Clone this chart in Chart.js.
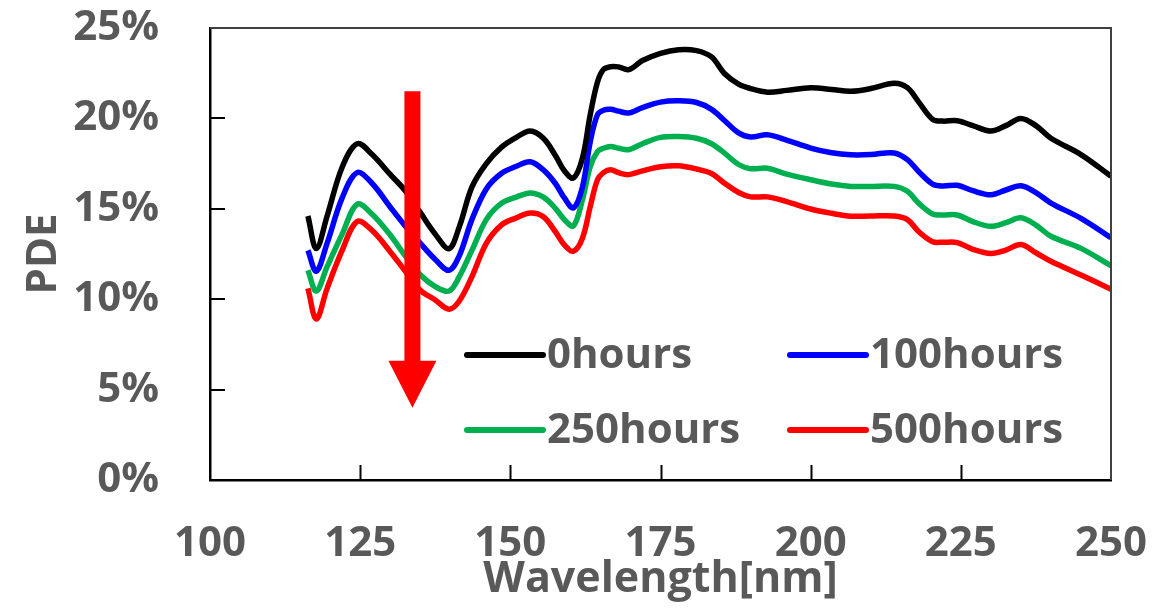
<!DOCTYPE html>
<html>
<head>
<meta charset="utf-8">
<script src="https://cdn.jsdelivr.net/npm/chart.js@4"></script>
<style>
  html, body { margin: 0; padding: 0; background: #ffffff; }
  #wrap { width: 1165px; height: 609px; position: relative; }
</style>
</head>
<body>
<div id="wrap"><canvas id="pde"></canvas></div>
<script>
// Wavelength sampling points [nm]
const wavelength = [116.3, 117.7, 119.5, 122, 124.5, 127, 130, 132.5, 135, 137.5,
  139.8, 141.5, 143.6, 146, 148.5, 151, 153.3, 155.5, 157.5, 159,
  160.5, 162, 163.3, 164.5, 165.5, 166.7, 168, 169.7, 172, 175,
  178, 181, 183.5, 185.6, 188, 190, 192.8, 196, 200, 203.5,
  206.7, 210, 213.9, 216.1, 218, 220.3, 222, 224.4, 227, 230,
  232.5, 235, 237.5, 240, 245, 250];

// PDE [%] after each exposure time
const pde0h = [14.6, 12.8, 14.6, 17.3, 18.6, 18.0, 16.9, 16.0, 14.8, 13.6,
  12.8, 14.0, 16.2, 17.5, 18.4, 18.95, 19.3, 18.9, 17.95, 17.1,
  16.7, 17.8, 20.2, 22.0, 22.7, 22.86, 22.85, 22.7, 23.2, 23.6,
  23.8, 23.75, 23.4, 22.5, 21.9, 21.65, 21.45, 21.55, 21.7, 21.6,
  21.5, 21.65, 21.95, 21.7, 20.9, 19.95, 19.85, 19.87, 19.6, 19.3,
  19.6, 20.0, 19.6, 18.9, 18.0, 16.8];
const pde100h = [12.7, 11.55, 13.1, 15.6, 17.0, 16.4, 15.1, 14.05, 13.1, 12.2,
  11.6, 12.4, 14.4, 16.1, 16.95, 17.35, 17.6, 17.15, 16.4, 15.6,
  15.05, 16.2, 18.7, 20.2, 20.45, 20.5, 20.4, 20.3, 20.6, 20.9,
  20.97, 20.88, 20.5, 19.9, 19.2, 18.97, 19.09, 18.8, 18.36, 18.1,
  17.99, 18.0, 18.09, 17.72, 17.05, 16.37, 16.26, 16.3, 16.0, 15.78,
  16.04, 16.28, 15.9, 15.32, 14.47, 13.4];
const pde250h = [11.6, 10.45, 11.8, 13.6, 15.25, 14.7, 13.55, 12.4, 11.35, 10.7,
  10.45, 11.25, 12.7, 14.4, 15.3, 15.65, 15.88, 15.65, 15.03, 14.4,
  14.05, 15.5, 17.33, 18.16, 18.35, 18.45, 18.35, 18.27, 18.6, 18.95,
  19.0, 18.9, 18.6, 18.09, 17.45, 17.22, 17.24, 16.92, 16.61, 16.37,
  16.24, 16.24, 16.24, 15.97, 15.3, 14.71, 14.66, 14.66, 14.29, 14.03,
  14.23, 14.5, 14.1, 13.48, 12.81, 11.85];
const pde500h = [10.6, 8.9, 10.6, 12.7, 14.3, 13.8, 12.63, 11.55, 10.5, 9.96,
  9.45, 9.9, 11.24, 13.09, 14.1, 14.5, 14.77, 14.56, 13.73, 13.0,
  12.65, 13.37, 15.12, 16.6, 17.0, 17.16, 17.0, 16.89, 17.1, 17.33,
  17.38, 17.2, 16.95, 16.43, 15.9, 15.66, 15.66, 15.4, 14.99, 14.75,
  14.59, 14.6, 14.6, 14.4, 13.73, 13.18, 13.15, 13.13, 12.76, 12.53,
  12.72, 13.02, 12.57, 12.1, 11.34, 10.55];

const seriesLabels = ['0hours', '100hours', '250hours', '500hours'];
const seriesColors = ['#000000', '#0000ff', '#00b050', '#ff0000'];

// Axis ranges and ticks
const xTicks = [100, 125, 150, 175, 200, 225, 250];
const yTicks = [0, 5, 10, 15, 20, 25];

// Downward trend arrow (data units): wavelength, top, head base, tip
const arrowX = 133.7;
const arrowTop = 21.5;
const arrowHeadBase = 6.6;
const arrowTip = 4.0;

const FONT = "'Open Sans', 'Liberation Sans', sans-serif";
const TEXT_GRAY = '#595959';

function toPoints(values) {
  return values.map((v, i) => ({ x: wavelength[i], y: v }));
}

const seriesValues = [pde0h, pde100h, pde250h, pde500h];
const datasets = seriesValues.map((vals, i) => ({
  label: seriesLabels[i],
  data: toPoints(vals),
  borderColor: seriesColors[i],
  backgroundColor: seriesColors[i],
  borderWidth: 5.5,
  pointRadius: 0,
  fill: false,
  tension: 0.35,
  borderJoinStyle: 'round'
}));

// Frame: grey top/right edges plus inward tick marks
const framePlugin = {
  id: 'frame',
  afterDatasetsDraw(chart) {
    const { ctx, chartArea: a, scales: { x, y } } = chart;
    ctx.save();
    ctx.strokeStyle = '#404040';
    ctx.lineWidth = 2;
    ctx.beginPath();
    ctx.moveTo(a.left, a.top);
    ctx.lineTo(a.right, a.top);
    ctx.lineTo(a.right, a.bottom);
    ctx.stroke();

    ctx.strokeStyle = '#000000';
    ctx.lineWidth = 2;
    ctx.beginPath();
    xTicks.slice(1, -1).forEach(v => {
      const px = Math.round(x.getPixelForValue(v)) + 0.5;
      ctx.moveTo(px, a.bottom);
      ctx.lineTo(px, a.bottom - 15);
    });
    yTicks.slice(1, -1).forEach(v => {
      const py = Math.round(y.getPixelForValue(v));
      ctx.moveTo(a.left, py);
      ctx.lineTo(a.left + 15, py);
    });
    ctx.stroke();
    ctx.restore();
  }
};

// Red arrow marking the decrease with exposure time
const arrowPlugin = {
  id: 'trendArrow',
  afterDatasetsDraw(chart) {
    const { ctx, scales: { x, y } } = chart;
    const cx = x.getPixelForValue(arrowX);
    const top = y.getPixelForValue(arrowTop);
    const base = y.getPixelForValue(arrowHeadBase);
    const tip = y.getPixelForValue(arrowTip);
    const shaftHalf = 8, headHalf = 24;
    ctx.save();
    ctx.fillStyle = '#ff0000';
    ctx.beginPath();
    ctx.moveTo(cx - shaftHalf, top);
    ctx.lineTo(cx + shaftHalf, top);
    ctx.lineTo(cx + shaftHalf, base);
    ctx.lineTo(cx + headHalf, base);
    ctx.lineTo(cx, tip);
    ctx.lineTo(cx - headHalf, base);
    ctx.lineTo(cx - shaftHalf, base);
    ctx.closePath();
    ctx.fill();
    ctx.restore();
  }
};

// Two-column legend inside the plot area
const legendPlugin = {
  id: 'innerLegend',
  afterDraw(chart) {
    const { ctx, chartArea: a } = chart;
    const cols = [a.left + 257, a.left + 580];
    const rows = [a.top + 327, a.top + 402];
    const lineLen = 76;
    ctx.save();
    ctx.font = `bold 42px ${FONT}`;
    ctx.textBaseline = 'middle';
    ctx.textAlign = 'left';
    chart.data.datasets.forEach((ds, i) => {
      const lx = cols[i % 2];
      const ly = rows[Math.floor(i / 2)];
      ctx.strokeStyle = ds.borderColor;
      ctx.lineWidth = 6;
      ctx.lineCap = 'round';
      ctx.beginPath();
      ctx.moveTo(lx, ly);
      ctx.lineTo(lx + lineLen, ly);
      ctx.stroke();
      ctx.fillStyle = TEXT_GRAY;
      ctx.fillText(ds.label, lx + lineLen + 4, ly + 1);
    });
    ctx.restore();
  }
};

new Chart(document.getElementById('pde'), {
  type: 'line',
  data: { datasets },
  options: {
    responsive: true,
    maintainAspectRatio: false,
    animation: false,
    layout: { padding: { top: 28, right: 54, left: 0, bottom: 0 } },
    plugins: {
      legend: { display: false },
      tooltip: { enabled: false }
    },
    scales: {
      x: {
        type: 'linear',
        min: xTicks[0],
        max: xTicks[xTicks.length - 1],
        afterBuildTicks(scale) { scale.ticks = xTicks.map(v => ({ value: v })); },
        afterFit(scale) {
          scale.height = 129;
          scale.paddingLeft = 0;
          scale.paddingRight = 0;
        },
        grid: { display: true, drawOnChartArea: false, drawTicks: false },
        border: { display: true, color: '#000000', width: 2.5 },
        ticks: {
          padding: 39,
          color: TEXT_GRAY,
          font: { family: FONT, size: 42, weight: 'bold' },
          maxRotation: 0,
          autoSkip: false
        },
        title: {
          display: true,
          text: 'Wavelength[nm]',
          color: TEXT_GRAY,
          font: { family: FONT, size: 43, weight: 'bold' },
          padding: { top: 0, bottom: 3 }
        }
      },
      y: {
        min: yTicks[0],
        max: yTicks[yTicks.length - 1],
        afterBuildTicks(scale) { scale.ticks = yTicks.map(v => ({ value: v })); },
        afterFit(scale) {
          scale.width = 210;
          scale.paddingTop = 0;
          scale.paddingBottom = 0;
        },
        grid: { display: true, drawOnChartArea: false, drawTicks: false },
        border: { display: true, color: '#000000', width: 2.5 },
        ticks: {
          padding: 51,
          color: TEXT_GRAY,
          font: { family: FONT, size: 42, weight: 'bold' },
          callback: v => v + '%'
        },
        title: {
          display: true,
          text: 'PDE',
          color: TEXT_GRAY,
          font: { family: FONT, size: 42, weight: 'bold' },
          padding: { top: 19, bottom: 0 }
        }
      }
    }
  },
  plugins: [framePlugin, arrowPlugin, legendPlugin]
});
</script>
</body>
</html>
